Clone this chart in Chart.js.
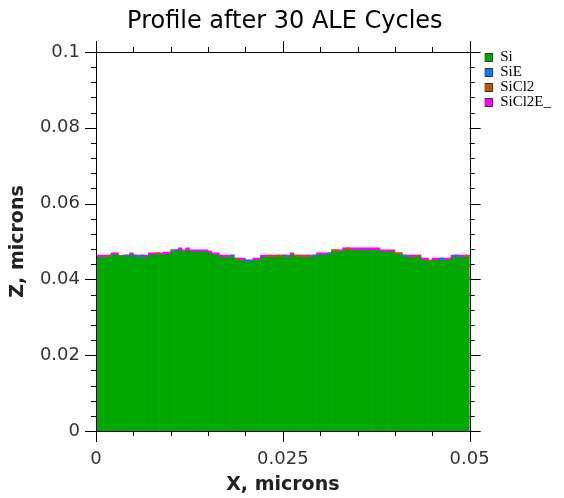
<!DOCTYPE html>
<html>
<head>
<meta charset="utf-8">
<script src="https://cdn.jsdelivr.net/npm/chart.js@4.4.0/dist/chart.umd.min.js"></script>
<style>
    html, body { margin: 0; padding: 0; background: #fff; }
</style>
</head>
<body>
<canvas id="profileChart" width="564" height="498"></canvas>
<script>
// surface cells after 30 cycles, one column per 0.0005 microns
const columnX = [];
for (let i = 0; i < 100; i++) columnX.push(i);

// height of the top of each column (microns)
const topZ = [
    0.0464, 0.0464, 0.0464, 0.0464, 0.0470, 0.0470, 0.0462, 0.0464, 0.0464, 0.0470,
    0.0464, 0.0464, 0.0464, 0.0464, 0.0470, 0.0470, 0.0470, 0.0470, 0.0472, 0.0472,
    0.0478, 0.0478, 0.0483, 0.0478, 0.0483, 0.0478, 0.0478, 0.0478, 0.0478, 0.0478,
    0.0475, 0.0470, 0.0470, 0.0464, 0.0464, 0.0464, 0.0464, 0.0456, 0.0456, 0.0456,
    0.0451, 0.0451, 0.0456, 0.0456, 0.0464, 0.0464, 0.0464, 0.0464, 0.0464, 0.0464,
    0.0464, 0.0464, 0.0470, 0.0464, 0.0464, 0.0464, 0.0464, 0.0464, 0.0464, 0.0470,
    0.0470, 0.0470, 0.0470, 0.0478, 0.0478, 0.0478, 0.0483, 0.0483, 0.0483, 0.0483,
    0.0483, 0.0483, 0.0483, 0.0483, 0.0483, 0.0483, 0.0478, 0.0478, 0.0478, 0.0478,
    0.0470, 0.0470, 0.0464, 0.0464, 0.0464, 0.0464, 0.0464, 0.0456, 0.0456, 0.0451,
    0.0456, 0.0456, 0.0456, 0.0456, 0.0456, 0.0464, 0.0464, 0.0464, 0.0464, 0.0464
];

// species of the top cell: 0 = bare Si, 1 = SiE, 2 = SiCl2, 3 = SiCl2E_
const topSpecies = [
    3, 3, 3, 2, 3, 3, 0, 2, 1, 3,
    1, 3, 1, 3, 3, 3, 2, 3, 3, 3,
    2, 1, 3, 3, 3, 3, 3, 3, 3, 3,
    3, 3, 3, 3, 3, 3, 1, 2, 3, 3,
    1, 1, 3, 3, 3, 3, 2, 3, 2, 2,
    1, 3, 3, 2, 2, 3, 2, 3, 1, 3,
    3, 3, 1, 2, 2, 3, 3, 2, 3, 3,
    3, 3, 3, 3, 3, 3, 3, 3, 3, 3,
    2, 2, 1, 3, 3, 3, 2, 3, 3, 2,
    3, 3, 1, 3, 3, 3, 1, 3, 3, 2
];

const cellHeight = 0.0006;

const speciesLabels = ['Si', 'SiE', 'SiCl2', 'SiCl2E_'];
const speciesColours = ['#00a800', '#0a78ff', '#b25c06', '#ff00ff'];

const xTickValues = [0, 0.025, 0.05];
const yTickValues = [0, 0.02, 0.04, 0.06, 0.08, 0.1];

const font = 'DejaVu Sans';

function buildDatasets() {
    return speciesLabels.map((label, k) => {
        const values = topZ.map((z, i) => {
            if (k === 0) return topSpecies[i] === 0 ? z : z - cellHeight;
            return topSpecies[i] === k ? cellHeight : 0;
        });
        return {
            label: label,
            data: values,
            backgroundColor: speciesColours[k],
            borderWidth: 0,
            barPercentage: 1,
            categoryPercentage: 1
        };
    });
}

// box around the plot with outward ticks on every side, 5 minor steps per label
const frameTicks = {
    id: 'frameTicks',
    beforeDraw(chart) {
        const a = chart.chartArea;
        // legend sits a little off the right edge of the frame
        const lg = chart.legend;
        const w = lg.right - lg.left;
        lg.left = a.right + 15;
        lg.right = lg.left + w;
        lg.top = a.top - 2;
        // title centred over the plot, not the whole canvas
        const tb = chart.titleBlock;
        tb.left = a.left + 2;
        tb.right = a.right + 2;
    },
    afterDatasetsDraw(chart) {
        const { ctx, chartArea: a } = chart;
        const xs = chart.scales.xv;
        const ys = chart.scales.y;
        const major = 11, minor = 5;
        ctx.save();
        ctx.strokeStyle = '#000';
        ctx.lineWidth = 1;
        ctx.strokeRect(Math.round(a.left) + 0.5, Math.round(a.top) + 0.5,
            Math.round(a.width), Math.round(a.height));
        ctx.beginPath();
        for (let n = 0; n <= 10; n++) {
            const px = Math.round(xs.getPixelForValue(n * 0.005)) + 0.5;
            const len = (n % 5 === 0) ? major : minor;
            ctx.moveTo(px, a.bottom); ctx.lineTo(px, a.bottom + len);
            ctx.moveTo(px, a.top); ctx.lineTo(px, a.top - len);
        }
        for (let n = 0; n <= 25; n++) {
            const py = Math.round(ys.getPixelForValue(n * 0.004)) + 0.5;
            const len = (n % 5 === 0) ? major : minor;
            ctx.moveTo(a.left, py); ctx.lineTo(a.left - len, py);
            ctx.moveTo(a.right, py); ctx.lineTo(a.right + len, py);
        }
        ctx.stroke();
        ctx.restore();
    }
};

const ctx = document.getElementById('profileChart').getContext('2d');
new Chart(ctx, {
    type: 'bar',
    data: {
        labels: columnX,
        datasets: buildDatasets()
    },
    options: {
        responsive: false,
        animation: false,
        layout: { padding: { left: 0, right: 18, top: 0, bottom: 0 } },
        plugins: {
            title: {
                display: true,
                text: 'Profile after 30 ALE Cycles',
                color: '#000',
                font: { family: font, size: 24, weight: 'normal' },
                padding: { top: 7, bottom: 16.2 }
            },
            legend: {
                position: 'right',
                align: 'start',
                fullSize: false,
                labels: {
                    boxWidth: 8,
                    boxHeight: 8,
                    padding: 0,
                    color: '#333',
                    font: { family: 'Liberation Serif', size: 15 },
                    generateLabels: (chart) => chart.data.datasets.map((ds, i) => ({
                        text: ds.label,
                        fillStyle: ds.backgroundColor,
                        strokeStyle: '#333',
                        lineWidth: 1,
                        datasetIndex: i
                    }))
                }
            },
            tooltip: { enabled: false }
        },
        scales: {
            x: {
                display: false,
                stacked: true
            },
            xv: {
                type: 'linear',
                position: 'bottom',
                offset: false,
                min: 0,
                max: 0.05,
                afterBuildTicks: (scale) => { scale.ticks = xTickValues.map(v => ({ value: v })); },
                grid: { display: false },
                border: { display: false },
                ticks: {
                    color: '#333', padding: 10, maxRotation: 0,
                    font: { family: font, size: 18 },
                    callback: (v) => String(v)
                },
                title: {
                    display: true,
                    text: 'X, microns',
                    color: '#222',
                    font: { family: font, size: 19, weight: 'bold' },
                    padding: { top: 0, bottom: 1.5 }
                },
                afterFit: (scale) => { scale.height = 67; }
            },
            y: {
                stacked: true,
                min: 0,
                max: 0.1,
                afterBuildTicks: (scale) => { scale.ticks = yTickValues.map(v => ({ value: v })); },
                grid: { display: false },
                border: { display: false },
                ticks: {
                    color: '#333', padding: 8,
                    font: { family: font, size: 18 },
                    callback: (v) => String(v)
                },
                title: {
                    display: true,
                    text: 'Z, microns',
                    color: '#222',
                    font: { family: font, size: 19, weight: 'bold' },
                    padding: { top: 7, bottom: 0 }
                },
                afterFit: (scale) => { scale.width = 96; }
            }
        }
    },
    plugins: [frameTicks]
});
</script>
</body>
</html>
